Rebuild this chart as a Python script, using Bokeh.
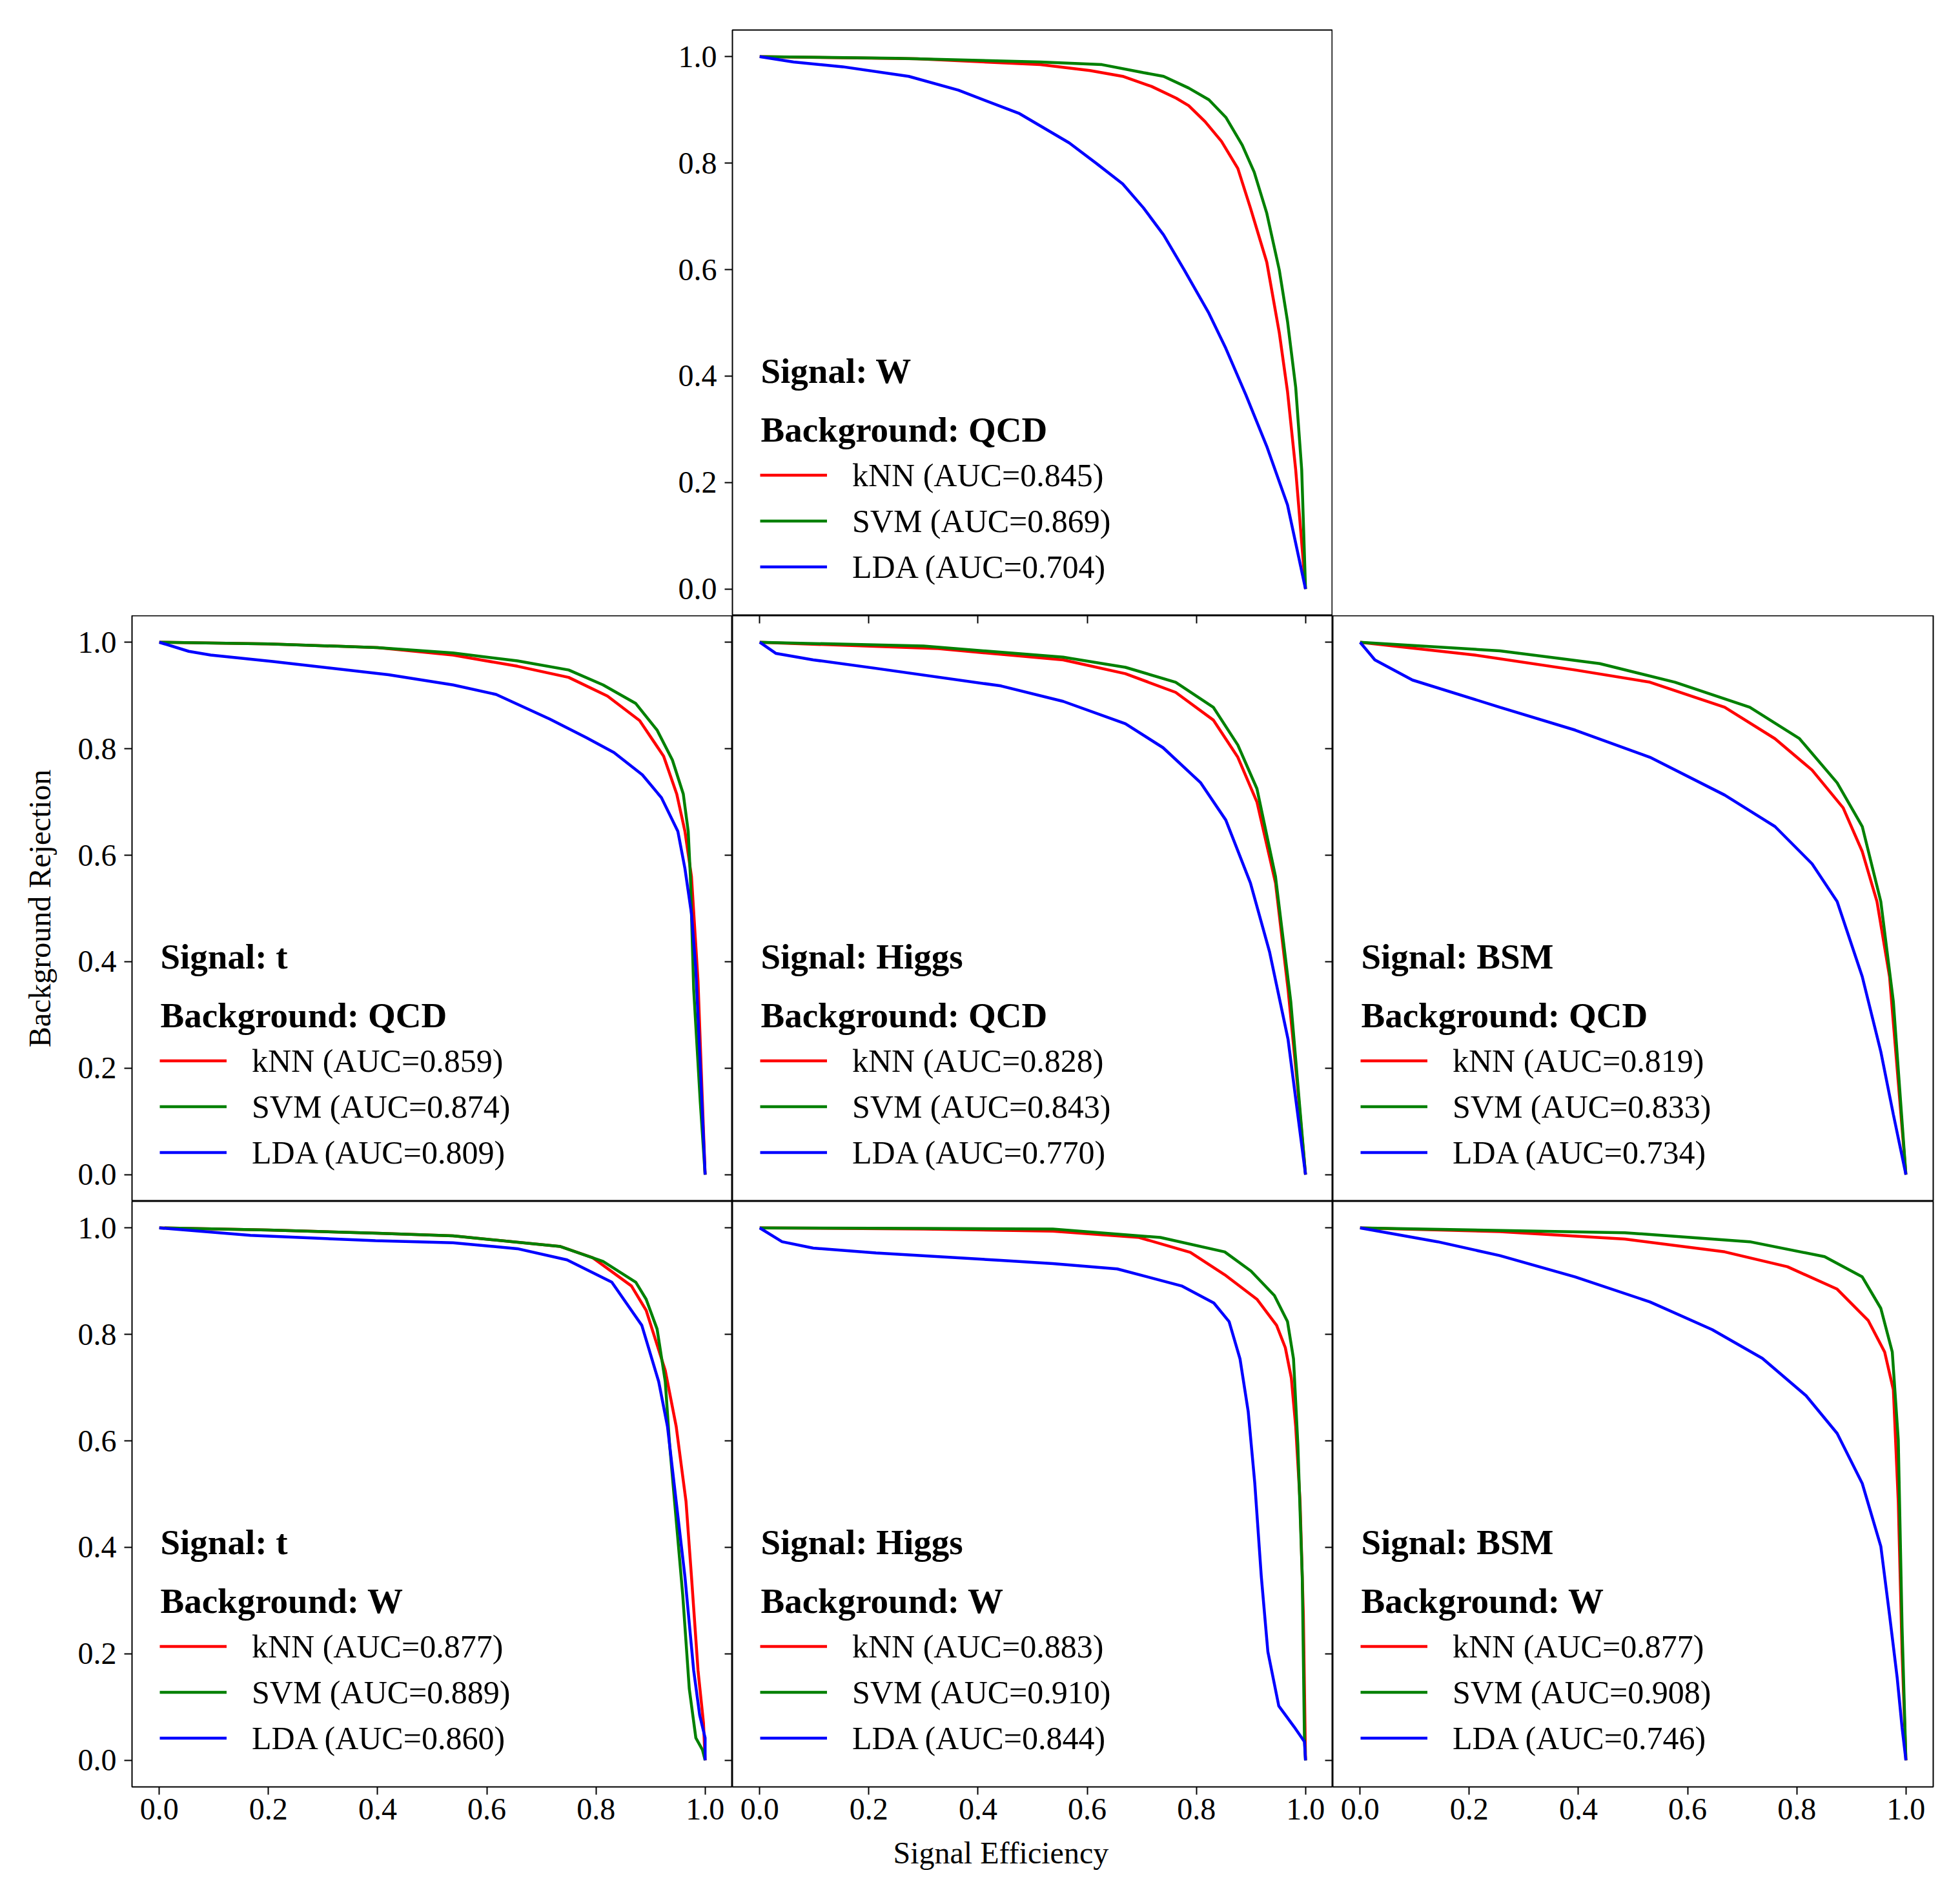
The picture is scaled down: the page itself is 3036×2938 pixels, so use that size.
from bokeh.plotting import figure
from bokeh.models import (Range1d, Legend, LegendItem, LinearAxis, FixedTicker,
                          PrintfTickFormatter, Label, Spacer, Title)
from bokeh.layouts import column, row
from bokeh.embed import file_html
from bokeh.resources import INLINE

# ---------------- data ----------------
TICKS = [0.0, 0.2, 0.4, 0.6, 0.8, 1.0]
CLASSIFIERS = ["kNN", "SVM", "LDA"]
COLORS = ["#ff0000", "#008000", "#0000ff"]

# Signal W / Background QCD
w_qcd_knn_x = [0, 0.288, 0.514, 0.605, 0.665, 0.718, 0.763, 0.786, 0.816, 0.846, 0.876, 0.899, 0.929, 0.952, 0.967, 0.982, 1.0]
w_qcd_knn_y = [1.0, 0.996, 0.985, 0.974, 0.963, 0.944, 0.922, 0.908, 0.878, 0.841, 0.790, 0.716, 0.614, 0.481, 0.371, 0.224, 0.0]
w_qcd_svm_x = [0, 0.25, 0.514, 0.627, 0.703, 0.740, 0.786, 0.823, 0.854, 0.884, 0.906, 0.929, 0.952, 0.967, 0.982, 0.993, 1.0]
w_qcd_svm_y = [1.0, 0.997, 0.990, 0.985, 0.970, 0.963, 0.941, 0.919, 0.886, 0.834, 0.783, 0.706, 0.599, 0.503, 0.379, 0.224, 0.0]
w_qcd_lda_x = [0, 0.062, 0.152, 0.273, 0.364, 0.476, 0.567, 0.620, 0.665, 0.703, 0.740, 0.778, 0.823, 0.854, 0.891, 0.929, 0.967, 1.0]
w_qcd_lda_y = [1.0, 0.990, 0.981, 0.963, 0.937, 0.893, 0.838, 0.797, 0.761, 0.716, 0.665, 0.599, 0.518, 0.452, 0.364, 0.268, 0.158, 0.0]
w_qcd_auc = ["0.845", "0.869", "0.704"]

# Signal t / Background QCD
t_qcd_knn_x = [0, 0.2, 0.4, 0.538, 0.656, 0.75, 0.821, 0.88, 0.924, 0.948, 0.963, 0.975, 0.987, 0.995, 1.0]
t_qcd_knn_y = [1.0, 0.997, 0.99, 0.976, 0.955, 0.934, 0.899, 0.853, 0.786, 0.715, 0.645, 0.56, 0.363, 0.138, 0.0]
t_qcd_svm_x = [0, 0.2, 0.4, 0.538, 0.656, 0.75, 0.813, 0.873, 0.912, 0.94, 0.96, 0.969, 0.973, 0.979, 0.991, 1.0]
t_qcd_svm_y = [1.0, 0.997, 0.99, 0.98, 0.965, 0.948, 0.92, 0.885, 0.835, 0.779, 0.715, 0.645, 0.56, 0.349, 0.138, 0.0]
t_qcd_lda_x = [0, 0.054, 0.094, 0.208, 0.42, 0.538, 0.617, 0.715, 0.782, 0.833, 0.885, 0.92, 0.95, 0.963, 0.975, 0.983, 0.991, 1.0]
t_qcd_lda_y = [1.0, 0.983, 0.976, 0.964, 0.939, 0.92, 0.902, 0.856, 0.821, 0.793, 0.751, 0.708, 0.645, 0.575, 0.49, 0.385, 0.208, 0.0]
t_qcd_auc = ["0.859", "0.874", "0.809"]

# Signal Higgs / Background QCD
h_qcd_knn_x = [0, 0.327, 0.556, 0.67, 0.762, 0.831, 0.876, 0.911, 0.945, 0.968, 0.985, 1.0]
h_qcd_knn_y = [1.0, 0.988, 0.967, 0.941, 0.906, 0.854, 0.784, 0.70, 0.548, 0.348, 0.17, 0.0]
h_qcd_svm_x = [0, 0.3, 0.556, 0.67, 0.762, 0.831, 0.876, 0.911, 0.945, 0.973, 1.0]
h_qcd_svm_y = [1.0, 0.993, 0.972, 0.953, 0.925, 0.878, 0.807, 0.725, 0.56, 0.325, 0.0]
h_qcd_lda_x = [0, 0.03, 0.098, 0.213, 0.442, 0.556, 0.67, 0.739, 0.808, 0.854, 0.899, 0.934, 0.968, 1.0]
h_qcd_lda_y = [1.0, 0.979, 0.967, 0.951, 0.918, 0.889, 0.847, 0.802, 0.736, 0.666, 0.548, 0.419, 0.254, 0.0]
h_qcd_auc = ["0.828", "0.843", "0.770"]

# Signal BSM / Background QCD
b_qcd_knn_x = [0, 0.21, 0.394, 0.531, 0.668, 0.76, 0.828, 0.885, 0.92, 0.947, 0.97, 1.0]
b_qcd_knn_y = [1.0, 0.976, 0.948, 0.925, 0.878, 0.819, 0.76, 0.689, 0.607, 0.513, 0.372, 0.0]
b_qcd_svm_x = [0, 0.256, 0.439, 0.577, 0.714, 0.805, 0.874, 0.92, 0.954, 0.977, 1.0]
b_qcd_svm_y = [1.0, 0.984, 0.96, 0.925, 0.878, 0.819, 0.736, 0.654, 0.513, 0.325, 0.0]
b_qcd_lda_x = [0, 0.027, 0.096, 0.256, 0.394, 0.531, 0.668, 0.76, 0.828, 0.874, 0.92, 0.954, 0.977, 1.0]
b_qcd_lda_y = [1.0, 0.967, 0.929, 0.878, 0.835, 0.784, 0.713, 0.654, 0.584, 0.513, 0.372, 0.231, 0.113, 0.0]
b_qcd_auc = ["0.819", "0.833", "0.734"]

# Signal t / Background W
t_w_knn_x = [0, 0.2, 0.4, 0.538, 0.735, 0.794, 0.865, 0.892, 0.927, 0.947, 0.965, 0.975, 0.987, 0.997, 1.0]
t_w_knn_y = [1.0, 0.996, 0.99, 0.985, 0.965, 0.944, 0.891, 0.845, 0.732, 0.627, 0.486, 0.345, 0.169, 0.07, 0.0]
t_w_svm_x = [0, 0.2, 0.4, 0.538, 0.735, 0.813, 0.873, 0.892, 0.912, 0.927, 0.935, 0.947, 0.959, 0.971, 0.983, 0.995, 1.0]
t_w_svm_y = [1.0, 0.996, 0.99, 0.985, 0.965, 0.937, 0.898, 0.866, 0.81, 0.711, 0.592, 0.451, 0.31, 0.134, 0.042, 0.02, 0.0]
t_w_lda_x = [0, 0.167, 0.396, 0.538, 0.656, 0.747, 0.829, 0.884, 0.915, 0.931, 0.947, 0.963, 0.979, 0.99, 1.0, 1.0]
t_w_lda_y = [1.0, 0.986, 0.976, 0.972, 0.961, 0.94, 0.898, 0.817, 0.711, 0.627, 0.486, 0.345, 0.169, 0.085, 0.042, 0.0]
t_w_auc = ["0.877", "0.889", "0.860"]

# Signal Higgs / Background W
h_w_knn_x = [0, 0.3, 0.537, 0.695, 0.789, 0.852, 0.911, 0.947, 0.963, 0.974, 0.982, 0.99, 0.996, 1.0]
h_w_knn_y = [1.0, 0.998, 0.994, 0.982, 0.954, 0.912, 0.866, 0.817, 0.775, 0.718, 0.627, 0.486, 0.275, 0.0]
h_w_svm_x = [0, 0.3, 0.537, 0.734, 0.852, 0.9, 0.943, 0.967, 0.978, 0.986, 0.994, 0.998, 1.0]
h_w_svm_y = [1.0, 0.999, 0.998, 0.982, 0.955, 0.919, 0.873, 0.824, 0.754, 0.592, 0.345, 0.042, 0.0]
h_w_lda_x = [0, 0.041, 0.098, 0.213, 0.442, 0.537, 0.655, 0.773, 0.832, 0.86, 0.88, 0.895, 0.907, 0.919, 0.931, 0.951, 0.979, 0.998, 1.0]
h_w_lda_y = [1.0, 0.974, 0.962, 0.953, 0.939, 0.933, 0.923, 0.891, 0.859, 0.824, 0.754, 0.655, 0.521, 0.345, 0.204, 0.102, 0.063, 0.035, 0.0]
h_w_auc = ["0.883", "0.910", "0.844"]

# Signal BSM / Background W
b_w_knn_x = [0, 0.256, 0.485, 0.668, 0.783, 0.874, 0.931, 0.961, 0.977, 0.986, 0.993, 1.0]
b_w_knn_y = [1.0, 0.993, 0.979, 0.955, 0.927, 0.885, 0.826, 0.767, 0.696, 0.485, 0.202, 0.0]
b_w_svm_x = [0, 0.485, 0.714, 0.851, 0.92, 0.954, 0.975, 0.986, 0.993, 1.0]
b_w_svm_y = [1.0, 0.991, 0.974, 0.946, 0.908, 0.849, 0.767, 0.602, 0.249, 0.0]
b_w_lda_x = [0, 0.142, 0.256, 0.394, 0.531, 0.645, 0.737, 0.817, 0.874, 0.92, 0.954, 0.97, 0.984, 0.993, 1.0]
b_w_lda_y = [1.0, 0.974, 0.948, 0.908, 0.861, 0.809, 0.755, 0.685, 0.614, 0.52, 0.402, 0.273, 0.155, 0.061, 0.0]
b_w_auc = ["0.877", "0.908", "0.746"]

X_TITLE = "Signal Efficiency"
Y_TITLE = "Background Rejection"

# ---------------- styling ----------------
FONT = "Liberation Serif"
FW, FH = 930, 907
LEFT_B, TOP_B, BOTTOM_B, RIGHT_B = 204, 46, 170, 20


def make_axis(labels, tick_in, tick_out, fixed=None, standoff=6):
    ax = LinearAxis(ticker=FixedTicker(ticks=TICKS),
                    formatter=PrintfTickFormatter(format="%.1f"),
                    axis_line_color=None,
                    major_tick_line_color="black", major_tick_line_width=2,
                    major_tick_in=tick_in, major_tick_out=tick_out,
                    minor_tick_line_color=None,
                    major_label_text_font=FONT,
                    major_label_text_font_size="48px",
                    major_label_text_color="black",
                    major_label_standoff=standoff,
                    axis_label_text_font=FONT,
                    axis_label_text_font_size="48px",
                    axis_label_text_font_style="normal",
                    axis_label_text_color="black")
    if fixed is not None:
        ax.fixed_location = fixed
    if not labels:
        ax.major_label_text_color = None
        ax.major_label_text_font_size = "0px"
    return ax


def panel(signal, background, aucs, curves, left=False, bottom=False,
          right_ticks=False, top_ticks=False, bl=0, bt=0, bb=0, br=0,
          xlabel=None, ylabel=None):
    p = figure(frame_width=FW, frame_height=FH,
               x_range=Range1d(-0.05, 1.05), y_range=Range1d(-0.05, 1.05),
               x_axis_location=None, y_axis_location=None,
               output_backend="svg", toolbar_location=None,
               min_border_left=bl, min_border_top=bt,
               min_border_bottom=bb, min_border_right=br)
    p.grid.visible = False
    p.outline_line_color = "black"
    p.outline_line_width = 2
    p.background_fill_color = "white"
    p.border_fill_color = "white"

    if left:
        ax = make_axis(True, 0, 12, standoff=12)
        if ylabel:
            ax.axis_label = ylabel
            ax.axis_label_standoff = 30
        p.add_layout(ax, "left")
    if bottom:
        p.add_layout(make_axis(True, 0, 12, standoff=6), "below")
        if xlabel:
            p.add_layout(Title(text=xlabel, align="left", offset=249,
                               text_font=FONT, text_font_size="48px",
                               text_font_style="normal", text_color="black",
                               standoff=40), "below")
    if right_ticks:
        p.add_layout(make_axis(False, 12, 0, fixed=1.05), "right")
    if top_ticks:
        p.add_layout(make_axis(False, 12, 0, fixed=1.05), "above")

    items = []
    for name, color, auc, (xs, ys) in zip(CLASSIFIERS, COLORS, aucs, curves):
        r = p.line(xs, ys, line_color=color, line_width=4.5)
        items.append(LegendItem(label=f"{name} (AUC={auc})", renderers=[r]))

    leg = Legend(items=items, location=(43, 40), padding=0, margin=0, spacing=0,
                 glyph_width=104, glyph_height=71, label_height=71,
                 label_standoff=39, label_text_font=FONT,
                 label_text_font_size="50px", label_text_color="black",
                 border_line_color=None, background_fill_alpha=0)
    p.add_layout(leg)

    p.add_layout(Label(x=0.002, y=0.41, text=f"Signal: {signal}",
                       text_font=FONT, text_font_style="bold",
                       text_font_size="55px", text_baseline="middle",
                       text_align="left", text_color="black"))
    p.add_layout(Label(x=0.002, y=0.299, text=f"Background: {background}",
                       text_font=FONT, text_font_style="bold",
                       text_font_size="55px", text_baseline="middle",
                       text_align="left", text_color="black"))
    return p


top = panel("W", "QCD", w_qcd_auc,
            [(w_qcd_knn_x, w_qcd_knn_y), (w_qcd_svm_x, w_qcd_svm_y), (w_qcd_lda_x, w_qcd_lda_y)],
            left=True, bl=LEFT_B, bt=TOP_B)

l1 = panel("t", "QCD", t_qcd_auc,
           [(t_qcd_knn_x, t_qcd_knn_y), (t_qcd_svm_x, t_qcd_svm_y), (t_qcd_lda_x, t_qcd_lda_y)],
           left=True, right_ticks=True, bl=LEFT_B, ylabel=Y_TITLE)
m1 = panel("Higgs", "QCD", h_qcd_auc,
           [(h_qcd_knn_x, h_qcd_knn_y), (h_qcd_svm_x, h_qcd_svm_y), (h_qcd_lda_x, h_qcd_lda_y)],
           right_ticks=True, top_ticks=True)
r1 = panel("BSM", "QCD", b_qcd_auc,
           [(b_qcd_knn_x, b_qcd_knn_y), (b_qcd_svm_x, b_qcd_svm_y), (b_qcd_lda_x, b_qcd_lda_y)],
           br=RIGHT_B)

l2 = panel("t", "W", t_w_auc,
           [(t_w_knn_x, t_w_knn_y), (t_w_svm_x, t_w_svm_y), (t_w_lda_x, t_w_lda_y)],
           left=True, bottom=True, right_ticks=True, bl=LEFT_B, bb=BOTTOM_B)
m2 = panel("Higgs", "W", h_w_auc,
           [(h_w_knn_x, h_w_knn_y), (h_w_svm_x, h_w_svm_y), (h_w_lda_x, h_w_lda_y)],
           bottom=True, right_ticks=True, bb=BOTTOM_B, xlabel=X_TITLE)
r2 = panel("BSM", "W", b_w_auc,
           [(b_w_knn_x, b_w_knn_y), (b_w_svm_x, b_w_svm_y), (b_w_lda_x, b_w_lda_y)],
           bottom=True, bb=BOTTOM_B, br=RIGHT_B)

layout = column(
    row(Spacer(width=FW, height=FH + TOP_B), top),
    row(l1, m1, r1),
    row(l2, m2, r2),
)

open("out.html", "w").write(file_html(layout, INLINE))
